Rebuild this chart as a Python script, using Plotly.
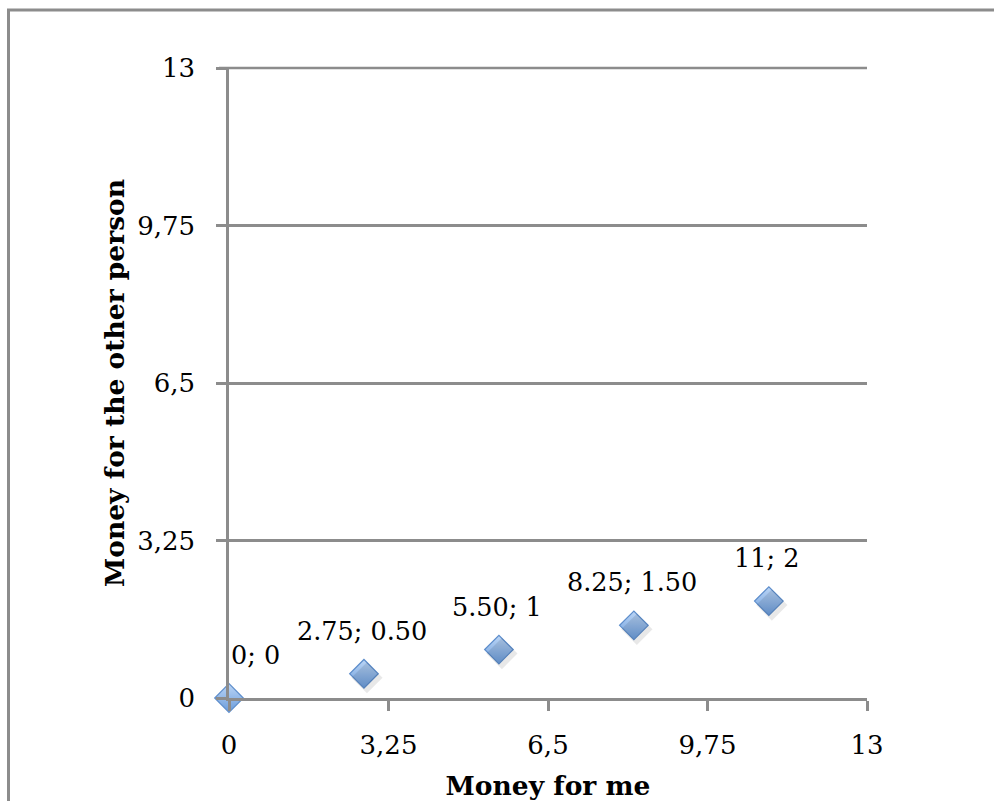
import plotly.graph_objects as go

# Allocation options: money kept vs. money given
money_me = [0, 2.75, 5.5, 8.25, 11]
money_other = [0, 0.5, 1, 1.5, 2]
point_labels = ["0; 0", "2.75; 0.50", "5.50; 1", "8.25; 1.50", "11; 2"]
tick_vals = [0, 3.25, 6.5, 9.75, 13]
tick_text = ["0", "3,25", "6,5", "9,75", "13"]

W, H = 994, 801
L, R, T, B = 229, 127, 68, 103
pw, ph = W - L - R, H - T - B

FONT = "DejaVu Serif"
TICK_FS = 26
LABEL_FS = 25.5
TITLE_FS = 26.5
GRID = "#8c8c8c"

fig = go.Figure()

# soft drop shadow under each diamond
fig.add_trace(go.Scatter(
    x=money_me, y=money_other, mode="markers",
    marker=dict(symbol="diamond", size=24, color="rgba(0,0,0,0.09)", line=dict(width=0)),
    hoverinfo="skip", showlegend=False, cliponaxis=False,
    xaxis="x2", yaxis="y2",
))

fig.add_trace(go.Scatter(
    x=money_me, y=money_other, mode="markers",
    marker=dict(
        symbol="diamond", size=22,
        color="#bcd6f6",
        gradient=dict(type="vertical", color="#6a9bda"),
        line=dict(color="#5d8dcb", width=1.2),
    ),
    showlegend=False, cliponaxis=False,
))

for i, (x, y, t) in enumerate(zip(money_me, money_other, point_labels)):
    fig.add_annotation(
        x=x, y=y, text=t, showarrow=False,
        xshift=26 if i == 0 else -2, yshift=43,
        font=dict(family=FONT, size=LABEL_FS, color="black"),
    )

# top gridline along the upper edge of the plot area
fig.add_shape(
    type="line", xref="paper", yref="paper",
    x0=-10 / pw, x1=1, y0=1, y1=1,
    line=dict(color=GRID, width=2.5),
)

# paper frame (left and top edges)
def px_x(p):
    return (p - L) / pw

def px_y(p):
    return (H - B - p) / ph

fig.add_shape(
    type="path", xref="paper", yref="paper",
    path=f"M {px_x(8.5)} {px_y(820)} L {px_x(8.5)} {px_y(10)} L {px_x(1010)} {px_y(10)}",
    line=dict(color=GRID, width=3),
)

axis_common = dict(
    range=[0, 13], tickvals=tick_vals, ticktext=tick_text,
    showline=True, linecolor=GRID, linewidth=2.5,
    ticks="outside", ticklen=10, tickwidth=2.5, tickcolor=GRID,
    tickfont=dict(family=FONT, size=TICK_FS, color="black"),
    zeroline=False, fixedrange=True, automargin=False,
)

fig.update_layout(
    width=W, height=H,
    margin=dict(l=L, r=R, t=T, b=B, autoexpand=False),
    paper_bgcolor="white", plot_bgcolor="white",
    xaxis=dict(
        **axis_common, showgrid=False,
        ticklabelstandoff=12,
        title=dict(text="<b>Money for me</b>", font=dict(family=FONT, size=TITLE_FS, color="black"), standoff=19),
    ),
    yaxis=dict(
        **axis_common, showgrid=True, gridcolor=GRID, gridwidth=2.5,
        ticklabelstandoff=16,
        title=dict(text="<b>Money for the other person</b>", font=dict(family=FONT, size=TITLE_FS, color="black"), standoff=5),
    ),
    xaxis2=dict(range=[0 - 3 / pw * 13, 13 - 3 / pw * 13], overlaying="x", visible=False, fixedrange=True),
    yaxis2=dict(range=[0 + 4 / ph * 13, 13 + 4 / ph * 13], overlaying="y", visible=False, fixedrange=True),
)

fig.write_html("out.html")
